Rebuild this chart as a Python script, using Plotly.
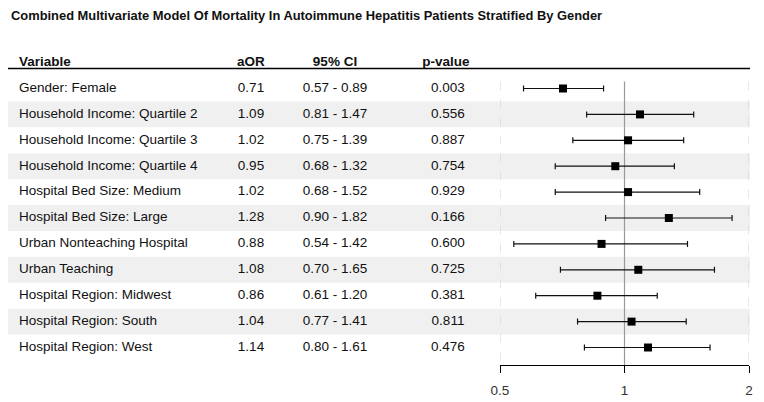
import plotly.graph_objects as go
import math

title = "Combined Multivariate Model Of Mortality In Autoimmune Hepatitis Patients Stratified By Gender"
headers = ["Variable", "aOR", "95% CI", "p-value"]
variables = [
    "Gender: Female",
    "Household Income: Quartile 2",
    "Household Income: Quartile 3",
    "Household Income: Quartile 4",
    "Hospital Bed Size: Medium",
    "Hospital Bed Size: Large",
    "Urban Nonteaching Hospital",
    "Urban Teaching",
    "Hospital Region: Midwest",
    "Hospital Region: South",
    "Hospital Region: West",
]
aor = [0.71, 1.09, 1.02, 0.95, 1.02, 1.28, 0.88, 1.08, 0.86, 1.04, 1.14]
ci_low = [0.57, 0.81, 0.75, 0.68, 0.68, 0.90, 0.54, 0.70, 0.61, 0.77, 0.80]
ci_high = [0.89, 1.47, 1.39, 1.32, 1.52, 1.82, 1.42, 1.65, 1.20, 1.41, 1.61]
p_values = ["0.003", "0.556", "0.887", "0.754", "0.929", "0.166", "0.600", "0.725", "0.381", "0.811", "0.476"]
x_ticks = [0.5, 1, 2]
x_tick_labels = ["0.5", "1", "2"]

W, H = 764, 402
OFF = 8  # page body margin offset (screen px = figure px + OFF)
FONT = "Arial, Liberation Sans, sans-serif"
TXT = "#111"
n = len(variables)
rows = list(range(1, n + 1))

# layout geometry (screen pixels)
row_px0 = 88.5
row_pitch = 25.9
plot_bottom = 365          # screen y of forest axis line
y0 = 1 - (row_px0 - OFF) / row_pitch
y1 = y0 + (plot_bottom - OFF) / row_pitch

def ydat(screen_y):
    return y0 + (screen_y - OFF) / row_pitch

col_var_x = 19
col_aor_x = 251
col_ci_x = 335
col_p_hdr_x = 446
col_p_x = 448
table_left = 4
table_right = 750
fx0, fx1 = 500, 749

fig = go.Figure()

def text_trace(xs, ys, texts, pos):
    fig.add_trace(go.Scatter(
        x=xs, y=ys, text=texts, mode="text", textposition=pos,
        textfont=dict(family=FONT, size=13.5, color=TXT),
        xaxis="x", yaxis="y", hoverinfo="skip", showlegend=False, cliponaxis=False))

# header
text_trace([col_var_x], [0], ["<b>" + headers[0] + "</b>"], "middle right")
text_trace([col_aor_x, col_ci_x, col_p_hdr_x], [0, 0, 0],
           ["<b>" + h + "</b>" for h in headers[1:]], "middle center")
# table columns
text_trace([col_var_x] * n, rows, variables, "middle right")
text_trace([col_aor_x] * n, rows, [f"{v:.2f}" for v in aor], "middle center")
text_trace([col_ci_x] * n, rows, [f"{a:.2f} - {b:.2f}" for a, b in zip(ci_low, ci_high)],
           "middle center")
text_trace([col_p_x] * n, rows, p_values, "middle center")

# forest plot
fig.add_trace(go.Scatter(
    x=aor, y=rows, mode="markers",
    marker=dict(symbol="square", size=8, color="black"),
    error_x=dict(type="data", symmetric=False,
                 array=[h - a for h, a in zip(ci_high, aor)],
                 arrayminus=[a - l for a, l in zip(aor, ci_low)],
                 color="#111", thickness=1.2, width=3),
    xaxis="x2", yaxis="y", hoverinfo="skip", showlegend=False, cliponaxis=False))

shapes = []
for r in rows:
    if r % 2 == 0:
        shapes.append(dict(type="rect", xref="x", yref="y", x0=table_left, x1=table_right,
                           y0=r - 0.5, y1=r + 0.5, fillcolor="#f0f0f0",
                           line=dict(width=0), layer="below"))
# header underline
y_line = ydat(68.5)
shapes.append(dict(type="line", xref="x", yref="y", x0=table_left, x1=table_right,
                   y0=y_line, y1=y_line, line=dict(color="black", width=1.5)))
# reference lines
y_top = ydat(81.5)
for t in x_ticks:
    if t == 1:
        shapes.append(dict(type="line", xref="x2", yref="y", x0=t, x1=t, y0=y_top, y1=y1,
                           line=dict(color="#999", width=1.2), layer="below"))
    else:
        shapes.append(dict(type="line", xref="x2", yref="y", x0=t, x1=t, y0=y_top, y1=y1,
                           line=dict(color="#d0d0d0", width=1, dash="dash"), layer="below"))

fig.update_layout(
    width=W, height=H,
    margin=dict(l=0, r=0, t=0, b=H - (plot_bottom - OFF), autoexpand=False),
    paper_bgcolor="white", plot_bgcolor="rgba(0,0,0,0)",
    shapes=shapes,
    xaxis=dict(domain=[0, 1], range=[OFF, OFF + W], visible=False, fixedrange=True,
               automargin=False),
    xaxis2=dict(domain=[(fx0 - OFF) / W, (fx1 - OFF) / W], type="log",
                range=[math.log10(x_ticks[0]), math.log10(x_ticks[-1])],
                anchor="y", showgrid=False, zeroline=False, showline=True,
                linecolor="black", linewidth=1.2, ticks="outside", ticklen=7,
                tickwidth=1.2, tickcolor="black", automargin=False,
                ticklabelstandoff=6,
                tickvals=x_ticks, ticktext=x_tick_labels,
                tickfont=dict(family=FONT, size=13.5, color="#333")),
    yaxis=dict(range=[y1, y0], visible=False, fixedrange=True, automargin=False),
    annotations=[dict(text="<b>" + title + "</b>", xref="x", yref="y",
                      x=9, y=ydat(15), xanchor="left", yanchor="middle",
                      showarrow=False, font=dict(family=FONT, size=12.9, color=TXT))],
)

fig.write_html("out.html")
